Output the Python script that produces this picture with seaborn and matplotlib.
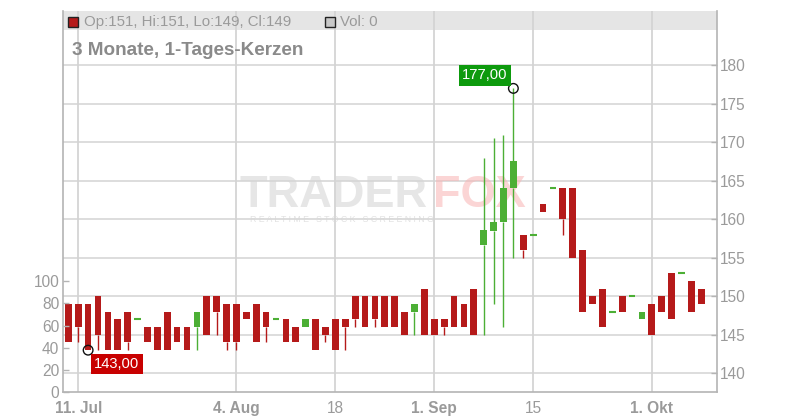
import numpy as np
import pandas as pd
import matplotlib
matplotlib.use("Agg")
import matplotlib.pyplot as plt
from matplotlib.patches import Rectangle
import seaborn as sns

# ---------------- data ----------------
opens = [149, 149, 149, 150, 148, 147, 148, 147, 146, 146, 148, 146, 146, 146, 150, 150,
         149, 149, 148, 149, 148, 147, 147, 146, 146, 147, 146, 147, 147, 150, 150, 150,
         150, 150, 148, 148, 151, 147, 147, 150, 149, 151, 156.6, 158.5, 159.6, 164,
         158, 158, 162, 164, 164, 164, 156, 150, 151, 148, 150, 150, 147, 149, 150, 153,
         153, 152, 151]
closes = [144, 146, 143, 145, 143, 143, 144, 147, 144, 143, 143, 144, 143, 148, 145, 148,
          144, 144, 147, 144, 146, 147, 144, 144, 147, 143, 145, 143, 146, 147, 146, 147,
          146, 146, 145, 149, 145, 145, 146, 146, 146, 145, 158.6, 159.6, 164, 167.6,
          156, 158, 161, 164, 160, 155, 148, 149, 146, 148, 148, 150, 148, 145, 148, 147,
          153, 148, 149]
highs = [149, 149, 149, 150, 148, 147, 148, 147, 146, 146, 148, 146, 146, 148, 150, 150,
         149, 149, 148, 149, 148, 147, 147, 146, 147, 147, 146, 147, 147, 150, 150, 150,
         150, 150, 148, 149, 151, 147, 147, 150, 149, 151, 168, 170.5, 171, 177,
         158, 158, 162, 164, 164, 164, 156, 150, 151, 148, 150, 150, 148, 149, 150, 153,
         153, 152, 151]
lows = [144, 144, 143, 143, 143, 143, 143, 147, 144, 143, 143, 144, 143, 143, 145, 145,
        143, 143, 147, 144, 144, 147, 144, 144, 146, 143, 144, 143, 143, 146, 146, 146,
        146, 146, 145, 145, 145, 145, 145, 146, 146, 145, 145, 149, 146, 155,
        155, 158, 161, 164, 158, 155, 148, 149, 146, 148, 148, 150, 147, 145, 148, 147,
        153, 148, 149]

tick_pos = [1, 17, 27, 37, 47, 59]
tick_labels = ["11. Jul", "4. Aug", "18", "1. Sep", "15", "1. Okt"]
tick_bold = [True, True, False, True, False, True]
price_ticks = [140, 145, 150, 155, 160, 165, 170, 175, 180]
vol_ticks = [0, 20, 40, 60, 80, 100]
title = "3 Monate, 1-Tages-Kerzen"
header_ohlc = "Op:151, Hi:151, Lo:149, Cl:149"
header_vol = "Vol: 0"
max_label = "177,00"
min_label = "143,00"

df = pd.DataFrame({"open": opens, "close": closes, "high": highs, "low": lows})
df["i"] = np.arange(len(df))
df["up"] = df["close"] >= df["open"]

# ---------------- style ----------------
sns.set_style("white")
plt.rcParams["font.family"] = ["Liberation Sans", "DejaVu Sans"]

RED = "#b51a1a"
GREEN = "#4caf35"
GRID = "#dadada"
SPINE = "#b4b4b4"
TXT = "#9a9a9a"

W, H = 800, 420
fig = plt.figure(figsize=(8, 4.2), dpi=100)
fx = lambda x: x / W
fy = lambda y: 1 - y / H

ax_left, ax_right, ax_top, ax_bot = 63.3, 716.7, 11.0, 392.3
ax = fig.add_axes([fx(ax_left), fy(ax_bot), fx(ax_right) - fx(ax_left), (ax_bot - ax_top) / H])

# volume axis (left) -- created first, twinx resets the host's tick side
axv = ax.twinx()
axv.set_ylim(0, 343.5)
axv.yaxis.tick_left()
axv.yaxis.set_label_position("left")
axv.set_yticks(vol_ticks)
axv.set_yticklabels([str(v) for v in vol_ticks])
axv.tick_params(axis="y", direction="in", length=4, width=1, color=SPINE, pad=3,
                labelsize=11.2, labelcolor=TXT, left=True, right=False,
                labelleft=True, labelright=False)
for s in axv.spines.values():
    s.set_visible(False)

ax.set_xlim(-0.51, 65.56)
ax.set_ylim(137.53, 187.05)

# header band
hb = (ax_bot - 30) / (ax_bot - ax_top)
ax.add_patch(Rectangle((0, hb), 1, 1 - hb, transform=ax.transAxes,
                       facecolor="#e5e5e5", edgecolor="none", zorder=0.2))
# grid
for p in price_ticks:
    ax.axhline(p, color=GRID, lw=1.3, zorder=0.5)
for t in tick_pos:
    ax.axvline(t, color="#d4d4d4", lw=1.3, zorder=0.5)

# watermark
ax.text(fx(240), fy(207), "TRADER", transform=fig.transFigure, fontsize=32.5, fontweight="bold",
        color="#d6d6d6", alpha=0.6, ha="left", va="baseline", zorder=0.8)
ax.text(fx(433), fy(207), "FOX", transform=fig.transFigure, fontsize=32.5, fontweight="bold",
        color="#f8b4b4", alpha=0.55, ha="left", va="baseline", zorder=0.8)
ax.text(fx(250), fy(222), " ".join("REALTIME STOCK SCREENING"), transform=fig.transFigure,
        fontsize=6.3, color="#d8d8d8", alpha=0.75, ha="left", va="baseline", zorder=0.8)

# candles
bw = 0.68
for row in df.itertuples():
    col = GREEN if row.up else RED
    lo_b, hi_b = min(row.open, row.close), max(row.open, row.close)
    if row.high > hi_b:
        ax.vlines(row.i, hi_b, row.high, color=col, lw=1.0, zorder=2)
    if row.low < lo_b:
        ax.vlines(row.i, row.low, lo_b, color=col, lw=1.0, zorder=2)
    if hi_b - lo_b > 0.05:
        ax.bar(row.i, hi_b - lo_b, bottom=lo_b, width=bw, color=col, linewidth=0, zorder=3)
    else:
        ax.hlines(lo_b, row.i - bw / 2, row.i + bw / 2, color=col, lw=1.5, zorder=3)

# extremes
imax = int(df["high"].idxmax())
imin = int(df["low"].idxmin())
ext = pd.DataFrame({"x": [imax, imin], "y": [df["high"][imax], df["low"][imin]]})
sns.scatterplot(data=ext, x="x", y="y", ax=ax, marker="o", s=48, facecolor="none",
                edgecolor="#111111", linewidth=1.0, zorder=5, legend=False)
ax.annotate(max_label, xy=(imax, df["high"][imax]), xytext=(-28.3, 13.1), textcoords="offset pixels",
            ha="center", va="center", fontsize=10.6, color="white", zorder=6,
            bbox=dict(boxstyle="square,pad=0.22", facecolor="#0d9a0d", edgecolor="none"))
ax.annotate(min_label, xy=(imin, df["low"][imin]), xytext=(28.7, -13.6), textcoords="offset pixels",
            ha="center", va="center", fontsize=10.6, color="white", zorder=6,
            bbox=dict(boxstyle="square,pad=0.22", facecolor="#c80000", edgecolor="none"))

# axes styling
ax.set_xlabel("")
ax.set_ylabel("")
ax.yaxis.tick_right()
ax.set_yticks(price_ticks)
ax.set_yticklabels([str(p) for p in price_ticks])
ax.tick_params(axis="y", direction="in", length=4, width=1, color=SPINE, pad=2.5,
               labelsize=11.2, labelcolor=TXT, right=True, left=False,
               labelright=True, labelleft=False)
ax.set_xticks(tick_pos)
ax.set_xticklabels(tick_labels)
for lab, b in zip(ax.get_xticklabels(), tick_bold):
    lab.set_fontweight("bold" if b else "normal")
ax.tick_params(axis="x", direction="out", length=3, width=1, color=SPINE, pad=3,
               labelsize=11.2, labelcolor=TXT)
for s in ["left", "right", "bottom"]:
    ax.spines[s].set_visible(True)
    ax.spines[s].set_color(SPINE)
    ax.spines[s].set_linewidth(1.2)
ax.spines["top"].set_visible(False)

# header legend
fig.add_artist(Rectangle((fx(68), fy(27)), 10 / W, 10 / H, transform=fig.transFigure,
                         facecolor=RED, edgecolor="#222222", lw=1.0))
fig.text(fx(84), fy(21.7), header_ohlc, fontsize=10.8, color=TXT, ha="left", va="center")
fig.add_artist(Rectangle((fx(325), fy(27)), 10 / W, 10 / H, transform=fig.transFigure,
                         facecolor="#c8c8c8", edgecolor="#222222", lw=1.0))
fig.text(fx(340), fy(21.7), header_vol, fontsize=10.8, color=TXT, ha="left", va="center")

fig.text(fx(72), fy(55), title, fontsize=13.6, fontweight="bold", color="#8a8a8a",
         ha="left", va="baseline")

fig.savefig("out.png", dpi=100, facecolor="white")
